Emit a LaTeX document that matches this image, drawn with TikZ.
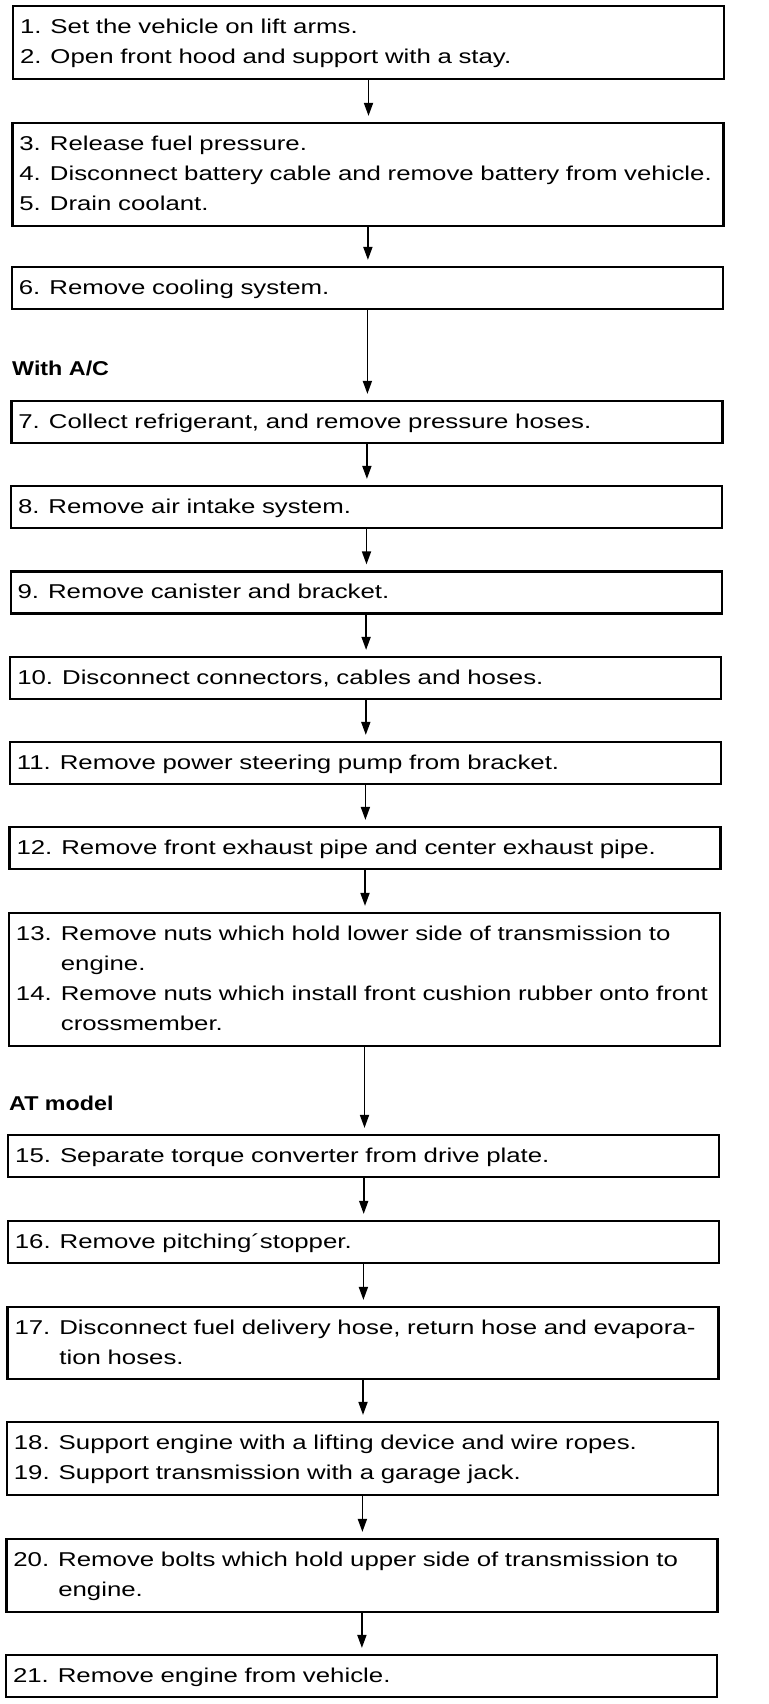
\documentclass[tikz,border=0pt]{standalone}
\usepackage{fontspec}
\setmainfont{Liberation Sans}[FakeStretch=1.29]
\newfontfamily\labelfont{Liberation Sans}[FakeStretch=1.165]
\usetikzlibrary{arrows.meta}
\newcommand\items[1]{\begin{tabular}{@{}l@{\hspace{9pt}}l@{}}#1\end{tabular}}
\tikzset{
  stepbox/.style={draw, line width=2.2pt, rectangle, inner xsep=7pt, inner ysep=0pt,
    minimum width=711pt, text width=697pt, align=left,
    font=\fontsize{20}{30}\selectfont},
  lbl/.style={anchor=west, inner sep=0pt, font=\labelfont\bfseries\fontsize{20}{24}\selectfont},
  arr/.style={line width=1.7pt, -{Triangle[width=9pt,length=13pt]}, shorten >=6pt}
}
\begin{document}
\begin{tikzpicture}[x=1pt,y=-1pt]
\useasboundingbox (0,0) rectangle (768,1704);

\node[stepbox, minimum height=73pt] (b1) at (368.5,42.5)
  {\items{1. & Set the vehicle on lift arms.\\ 2. & Open front hood and support with a stay.}};
\node[stepbox, minimum height=103pt] (b2) at (367.9,174.5)
  {\items{3. & Release fuel pressure.\\ 4. & Disconnect battery cable and remove battery from vehicle.\\ 5. & Drain coolant.}};
\node[stepbox, minimum height=42pt] (b3) at (367.4,288)
  {\items{6. & Remove cooling system.}};
\node[lbl] (wac) at (12,368) {With A/C};
\node[stepbox, minimum height=42pt] (b4) at (366.9,422)
  {\items{7. & Collect refrigerant, and remove pressure hoses.}};
\node[stepbox, minimum height=42pt] (b5) at (366.5,507)
  {\items{8. & Remove air intake system.}};
\node[stepbox, minimum height=42pt] (b6) at (366.1,592.5)
  {\items{9. & Remove canister and bracket.}};
\node[stepbox, minimum height=42pt] (b7) at (365.8,678)
  {\items{10. & Disconnect connectors, cables and hoses.}};
\node[stepbox, minimum height=42pt] (b8) at (365.4,763)
  {\items{11. & Remove power steering pump from bracket.}};
\node[stepbox, minimum height=42pt] (b9) at (365.0,848)
  {\items{12. & Remove front exhaust pipe and center exhaust pipe.}};
\node[stepbox, minimum height=133pt] (b10) at (364.5,979.5)
  {\items{13. & Remove nuts which hold lower side of transmission to\\ & engine.\\ 14. & Remove nuts which install front cushion rubber onto front\\ & crossmember.}};
\node[lbl] (atm) at (9,1103) {AT model};
\node[stepbox, minimum height=42pt] (b11) at (363.7,1156)
  {\items{15. & Separate torque converter from drive plate.}};
\node[stepbox, minimum height=42pt] (b12) at (363.4,1242)
  {\items{16. & Remove pitching´stopper.}};
\node[stepbox, minimum height=72pt] (b13) at (363.0,1343)
  {\items{17. & Disconnect fuel delivery hose, return hose and evapora-\\ & tion hoses.}};
\node[stepbox, minimum height=73pt] (b14) at (362.4,1458.5)
  {\items{18. & Support engine with a lifting device and wire ropes.\\ 19. & Support transmission with a garage jack.}};
\node[stepbox, minimum height=73pt] (b15) at (361.9,1575.5)
  {\items{20. & Remove bolts which hold upper side of transmission to\\ & engine.}};
\node[stepbox, minimum height=42pt] (b16) at (361.5,1676)
  {\items{21. & Remove engine from vehicle.}};

\foreach \a/\b in {b1/b2,b2/b3,b3/b4,b4/b5,b5/b6,b6/b7,b7/b8,b8/b9,b9/b10,b10/b11,b11/b12,b12/b13,b13/b14,b14/b15,b15/b16}
  \draw[arr] (\a.south) -- (\a.south |- \b.north);
\end{tikzpicture}
\end{document}
